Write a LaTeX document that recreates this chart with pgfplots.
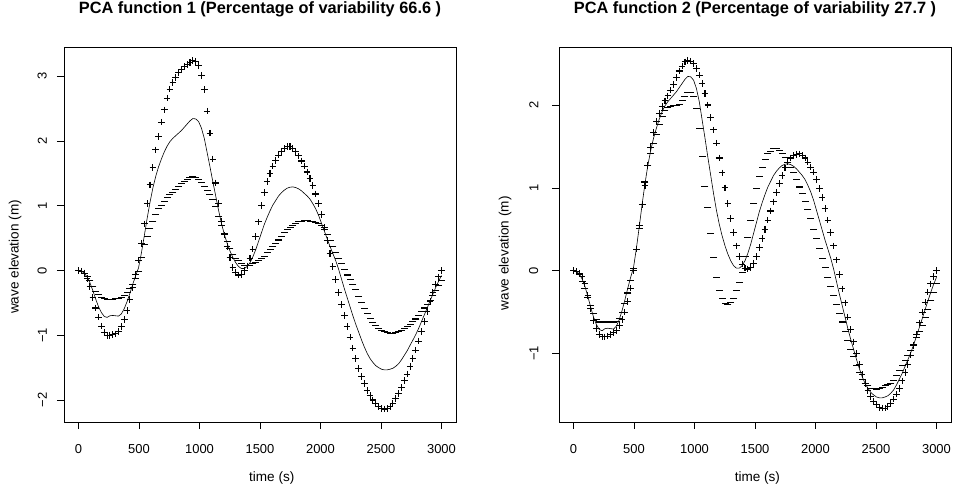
\documentclass[border=0pt]{standalone}
\usepackage{fontspec}
\setmainfont{Liberation Sans}
\usepackage{pgfplots}
\usepackage{pgfplotstable}
\usetikzlibrary{plotmarks}
\pgfplotsset{compat=1.18}

\pgfplotstableread{
t m p1 n1 p2 n2
0.0 0.00 0.00 0.00 0.00 0.00
23.6 -0.01 -0.01 -0.02 -0.01 -0.01
47.2 -0.04 -0.04 -0.05 -0.03 -0.05
70.9 -0.10 -0.12 -0.09 -0.07 -0.13
94.5 -0.19 -0.25 -0.16 -0.16 -0.22
118.1 -0.31 -0.42 -0.25 -0.30 -0.32
141.7 -0.44 -0.58 -0.32 -0.46 -0.42
165.4 -0.56 -0.72 -0.37 -0.60 -0.52
189.0 -0.65 -0.86 -0.42 -0.70 -0.59
212.6 -0.71 -0.96 -0.44 -0.77 -0.62
236.2 -0.725 -1.00 -0.45 -0.80 -0.62
259.8 -0.70 -1.00 -0.45 -0.80 -0.62
283.5 -0.695 -0.99 -0.45 -0.79 -0.62
307.1 -0.70 -0.98 -0.44 -0.77 -0.62
330.7 -0.705 -0.94 -0.43 -0.75 -0.62
354.3 -0.67 -0.87 -0.42 -0.72 -0.61
378.0 -0.59 -0.76 -0.39 -0.66 -0.58
401.6 -0.48 -0.62 -0.34 -0.59 -0.51
425.2 -0.35 -0.45 -0.28 -0.50 -0.40
448.8 -0.21 -0.26 -0.21 -0.37 -0.27
472.4 -0.08 -0.06 -0.13 -0.21 -0.12
496.1 0.04 0.16 -0.01 0.00 0.03
519.7 0.27 0.42 0.20 0.26 0.25
543.3 0.53 0.72 0.40 0.55 0.51
566.9 0.80 1.03 0.53 0.80 0.80
590.6 1.05 1.32 0.65 1.03 1.07
614.2 1.27 1.59 0.76 1.27 1.27
637.8 1.45 1.86 0.87 1.49 1.41
661.4 1.60 2.07 0.95 1.67 1.53
685.0 1.72 2.29 1.01 1.80 1.64
708.7 1.83 2.48 1.06 1.90 1.76
732.3 1.92 2.66 1.12 1.98 1.86
755.9 1.99 2.80 1.17 2.05 1.93
779.5 2.04 2.90 1.21 2.11 1.97
803.1 2.08 2.98 1.25 2.18 1.98
826.8 2.12 3.05 1.30 2.25 1.99
850.4 2.16 3.10 1.34 2.33 1.99
874.0 2.21 3.15 1.38 2.41 2.01
897.6 2.26 3.18 1.41 2.47 2.05
921.3 2.31 3.21 1.44 2.52 2.10
944.9 2.345 3.24 1.445 2.54 2.15
968.5 2.34 3.23 1.44 2.53 2.15
992.1 2.30 3.16 1.41 2.50 2.10
1015.7 2.20 3.01 1.36 2.44 1.96
1039.4 2.04 2.79 1.30 2.36 1.72
1063.0 1.82 2.46 1.23 2.26 1.38
1086.6 1.60 2.12 1.17 2.14 1.02
1110.2 1.37 1.72 1.10 2.00 0.76
1133.9 1.15 1.35 0.98 1.85 0.45
1157.5 0.93 1.04 0.84 1.70 0.16
1181.1 0.73 0.76 0.70 1.54 -0.08
1204.7 0.56 0.55 0.57 1.36 -0.24
1228.3 0.42 0.37 0.45 1.18 -0.34
1252.0 0.30 0.20 0.34 1.00 -0.40
1275.6 0.20 0.05 0.25 0.81 -0.41
1299.2 0.12 -0.03 0.19 0.63 -0.39
1322.8 0.06 -0.07 0.15 0.46 -0.34
1346.5 0.03 -0.06 0.11 0.30 -0.24
1370.1 0.03 0.00 0.08 0.17 -0.14
1393.7 0.06 0.07 0.075 0.08 -0.02
1417.3 0.12 0.19 0.08 0.03 0.17
1440.9 0.21 0.33 0.10 0.02 0.40
1464.6 0.32 0.52 0.12 0.04 0.60
1488.2 0.45 0.75 0.15 0.09 0.81
1511.8 0.58 1.00 0.18 0.17 0.99
1535.4 0.71 1.20 0.22 0.28 1.14
1559.1 0.82 1.37 0.27 0.39 1.25
1582.7 0.92 1.50 0.32 0.50 1.34
1606.3 1.01 1.61 0.37 0.61 1.41
1629.9 1.08 1.70 0.42 0.72 1.44
1653.5 1.15 1.78 0.47 0.83 1.47
1677.2 1.20 1.84 0.52 0.94 1.47
1700.8 1.24 1.88 0.58 1.05 1.45
1724.4 1.27 1.91 0.63 1.15 1.41
1748.0 1.285 1.91 0.67 1.24 1.37
1771.7 1.29 1.88 0.70 1.31 1.31
1795.3 1.28 1.83 0.73 1.36 1.25
1818.9 1.26 1.77 0.75 1.39 1.18
1842.5 1.23 1.69 0.76 1.405 1.10
1866.1 1.19 1.61 0.77 1.41 1.01
1889.8 1.15 1.52 0.77 1.39 0.93
1913.4 1.10 1.42 0.76 1.36 0.84
1937.0 1.03 1.31 0.75 1.31 0.74
1960.6 0.95 1.18 0.74 1.25 0.63
1984.3 0.85 1.03 0.72 1.19 0.50
2007.9 0.73 0.86 0.69 1.10 0.39
2031.5 0.61 0.66 0.63 0.99 0.27
2055.1 0.49 0.46 0.55 0.88 0.15
2078.7 0.37 0.26 0.46 0.75 0.04
2102.4 0.26 0.06 0.37 0.61 -0.08
2126.0 0.15 -0.14 0.28 0.46 -0.19
2149.6 0.02 -0.34 0.19 0.30 -0.30
2173.2 -0.13 -0.53 0.10 0.13 -0.41
2196.9 -0.28 -0.70 0.01 -0.05 -0.52
2220.5 -0.42 -0.87 -0.07 -0.22 -0.62
2244.1 -0.56 -1.03 -0.14 -0.39 -0.73
2267.7 -0.70 -1.20 -0.21 -0.56 -0.84
2291.3 -0.83 -1.36 -0.30 -0.71 -0.95
2315.0 -0.95 -1.51 -0.40 -0.86 -1.04
2338.6 -1.07 -1.64 -0.50 -1.00 -1.14
2362.2 -1.18 -1.75 -0.59 -1.13 -1.23
2385.8 -1.28 -1.85 -0.67 -1.25 -1.31
2409.4 -1.36 -1.93 -0.74 -1.36 -1.36
2433.1 -1.42 -2.00 -0.80 -1.45 -1.39
2456.7 -1.47 -2.06 -0.85 -1.52 -1.42
2480.3 -1.50 -2.10 -0.89 -1.58 -1.42
2503.9 -1.525 -2.13 -0.92 -1.62 -1.43
2527.6 -1.535 -2.14 -0.94 -1.65 -1.42
2551.2 -1.535 -2.13 -0.96 -1.66 -1.41
2574.8 -1.525 -2.10 -0.97 -1.66 -1.39
2598.4 -1.51 -2.05 -0.97 -1.64 -1.38
2622.0 -1.48 -1.98 -0.96 -1.60 -1.36
2645.7 -1.44 -1.90 -0.94 -1.55 -1.33
2669.3 -1.38 -1.81 -0.92 -1.49 -1.27
2692.9 -1.31 -1.70 -0.89 -1.42 -1.20
2716.5 -1.24 -1.60 -0.86 -1.33 -1.15
2740.2 -1.155 -1.48 -0.83 -1.23 -1.08
2763.8 -1.075 -1.36 -0.79 -1.13 -1.02
2787.4 -0.99 -1.23 -0.75 -1.02 -0.96
2811.0 -0.895 -1.09 -0.70 -0.90 -0.89
2834.6 -0.79 -0.94 -0.64 -0.77 -0.81
2858.3 -0.685 -0.79 -0.58 -0.63 -0.74
2881.9 -0.58 -0.64 -0.52 -0.50 -0.66
2905.5 -0.47 -0.48 -0.46 -0.38 -0.56
2929.1 -0.365 -0.34 -0.39 -0.26 -0.47
2952.8 -0.26 -0.21 -0.31 -0.16 -0.36
2976.4 -0.165 -0.10 -0.23 -0.07 -0.26
3000.0 -0.08 0.00 -0.16 0.00 -0.16
}\pcadata

\pgfplotsset{
  rpanel/.style={
    scale only axis, width=392bp, height=375bp,
    xmin=-120, xmax=3120,
    axis line style={black, line width=0.6bp},
    tick align=outside, xtick pos=bottom, ytick pos=left,
    major tick length=7bp,
    every tick/.style={black, line width=0.6bp},
    xtick={0,500,1000,1500,2000,2500,3000},
    xticklabels={0,500,1000,1500,2000,2500,3000},
    ticklabel style={font=\fontsize{13}{15}\selectfont},
    xticklabel style={anchor=base, inner sep=0pt, yshift=-24bp},
    title style={at={([yshift=28bp]axis description cs:0.5,1)}, anchor=base, inner sep=0pt, font=\bfseries\fontsize{16.4}{19}\selectfont},
    xlabel={time (s)},
    ylabel={wave elevation (m)},
  },
  meanline/.style={black, line width=0.6bp, no markers},
  plusmk/.style={black, only marks, mark=+, mark size=3.3bp, line width=1.05bp},
  minusmk/.style={black, only marks, mark=-, mark size=3.5bp, line width=1.05bp},
}

\begin{document}
\begin{tikzpicture}
\useasboundingbox (0,0) rectangle (954bp,486bp);
\begin{axis}[rpanel, at={(64bp,64bp)}, anchor=south west,
  ymin=-2.34, ymax=3.45,
  ytick={-2,-1,0,1,2,3}, yticklabels={−2,−1,0,1,2,3},
  yticklabel style={xshift=-10bp, rotate=90, anchor=south, inner sep=0pt},
  every axis x label/.style={at={([yshift=-59bp]axis description cs:0.53,0)}, anchor=base, inner sep=0pt, font=\fontsize{13.6}{15}\selectfont},
  every axis y label/.style={at={([xshift=-49bp]axis description cs:0,0.44)}, rotate=90, anchor=center, inner sep=0pt, font=\fontsize{13.6}{15}\selectfont},
  title={PCA function 1 (Percentage of variability 66.6 )}]
\addplot[meanline] table[x=t, y=m] {\pcadata};
\addplot[plusmk] table[x=t, y=p1] {\pcadata};
\addplot[minusmk] table[x=t, y=n1] {\pcadata};
\end{axis}
\begin{axis}[rpanel, at={(559bp,64bp)}, anchor=south west,
  ymin=-1.827, ymax=2.70,
  ytick={-1,0,1,2}, yticklabels={−1,0,1,2},
  yticklabel style={xshift=-13.5bp, rotate=90, anchor=south, inner sep=0pt},
  every axis x label/.style={at={([yshift=-59bp]axis description cs:0.506,0)}, anchor=base, inner sep=0pt, font=\fontsize{13.6}{15}\selectfont},
  every axis y label/.style={at={([xshift=-54bp]axis description cs:0,0.45)}, rotate=90, anchor=center, inner sep=0pt, font=\fontsize{13.6}{15}\selectfont},
  title={PCA function 2 (Percentage of variability 27.7 )}]
\addplot[meanline] table[x=t, y=m] {\pcadata};
\addplot[plusmk] table[x=t, y=p2] {\pcadata};
\addplot[minusmk] table[x=t, y=n2] {\pcadata};
\end{axis}
\end{tikzpicture}
\end{document}
